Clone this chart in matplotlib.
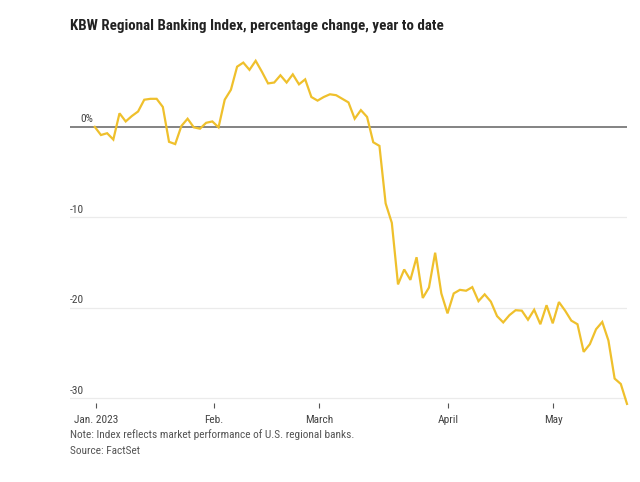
import matplotlib
matplotlib.use("Agg")
import matplotlib.pyplot as plt
import matplotlib.transforms as mtransforms
from matplotlib import font_manager

# ---- data (percentage change, year to date; one value per trading session) ----
values = [
    0.0, -0.9, -0.7, -1.4, 1.5, 0.6, 1.2, 1.7, 3.0, 3.1,
    3.1, 2.2, -1.65, -1.9, 0.1, 0.9, -0.05, -0.2, 0.45, 0.6,
    -0.05, 3.0, 4.1, 6.65, 7.1, 6.3, 7.3, 6.1, 4.8, 4.9,
    5.7, 4.9, 5.8, 4.7, 5.25, 3.3, 2.9, 3.3, 3.6, 3.5,
    3.1, 2.7, 0.9, 1.85, 1.1, -1.7, -2.1, -8.45, -10.6, -17.4,
    -15.75, -16.9, -14.4, -18.9, -17.75, -13.9, -18.4, -20.6, -18.4, -18.0,
    -18.1, -17.7, -19.25, -18.5, -19.3, -20.9, -21.6, -20.8, -20.25, -20.3,
    -21.3, -20.2, -21.8, -19.7, -21.7, -19.35, -20.3, -21.4, -21.8, -24.85,
    -24.0, -22.35, -21.55, -23.6, -27.8, -28.4, -30.6,
]
month_labels = ["Jan. 2023", "Feb.", "March", "April", "May"]
month_tick_pos = [0.2, 19.2, 36.3, 57.1, 74.1]
ytick_values = [0, -10, -20, -30]
ytick_labels = ["0%", "-10", "-20", "-30"]

title = "KBW Regional Banking Index, percentage change, year to date"
note = "Note: Index reflects market performance of U.S. regional banks."
source = "Source: FactSet"

# ---- fonts: prefer a condensed sans ----
fonts = font_manager.fontManager.ttflist
names = {f.name for f in fonts}
fprops = {}
for cand in ["Liberation Sans Narrow", "Roboto Condensed", "Open Sans Condensed",
             "Noto Sans Condensed", "DejaVu Sans Condensed"]:
    if cand in names:
        fprops = dict(family=[cand, "DejaVu Sans"])
        break
else:
    cond = [f for f in fonts if f.name == "DejaVu Sans" and str(f.stretch) in ("condensed", "semi-condensed", "600", "500")]
    if cond:
        fprops = dict(family=["DejaVu Sans"], fontstretch="condensed")
    else:
        fprops = dict(family=["Roboto", "DejaVu Sans"])

fig = plt.figure(figsize=(6.4, 4.82), dpi=100)
renderer = fig.canvas.get_renderer()


def fit_size(text, target_px, weight="normal", base=10.0):
    t = fig.text(0, 0, text, fontsize=base, fontweight=weight, **fprops)
    w = t.get_window_extent(renderer).width
    t.remove()
    return base * target_px / w


body_size = fit_size(note, 285)
title_size = fit_size(title, 371, weight="bold")

ax = fig.add_axes([70 / 640, 1 - 403 / 482, (627 - 70) / 640, (403 - 54) / 482])

x = list(range(len(values)))
ax.plot(x, values, color="#EFC02C", lw=1.6, zorder=4, clip_on=False,
        solid_joinstyle="miter")

ax.set_xlim(-4.0, len(values) - 1)
ax.set_ylim(-30.5, 8.05)

for v in ytick_values:
    if v == 0:
        ax.axhline(v, color="#7a7a7a", lw=1.3, zorder=3)
    else:
        ax.axhline(v, color="#ebebeb", lw=0.9, zorder=1)

trans = mtransforms.blended_transform_factory(ax.transAxes, ax.transData)
for v, lab in zip(ytick_values, ytick_labels):
    xoff = 0.018 if v == 0 else 0.0
    ax.text(xoff, v + 0.3, lab, transform=trans, ha="left", va="bottom",
            fontsize=body_size, color="#444444", **fprops)

for s in ax.spines.values():
    s.set_visible(False)
ax.set_yticks([])
ax.set_xticks(month_tick_pos)
ax.set_xticklabels(month_labels, **fprops)
ax.tick_params(axis="x", length=3.5, width=0.8, color="#555555", pad=5,
               labelsize=body_size, labelcolor="#444444")

fig.text(70 / 640, 1 - 26 / 482, title, ha="left", va="center",
         fontsize=title_size, fontweight="bold", color="#222222", **fprops)
fig.text(70 / 640, 1 - 435 / 482, note, ha="left", va="center",
         fontsize=body_size, color="#555555", **fprops)
fig.text(70 / 640, 1 - 451 / 482, source, ha="left", va="center",
         fontsize=body_size, color="#555555", **fprops)

fig.savefig("out.png", dpi=100, facecolor="white")
